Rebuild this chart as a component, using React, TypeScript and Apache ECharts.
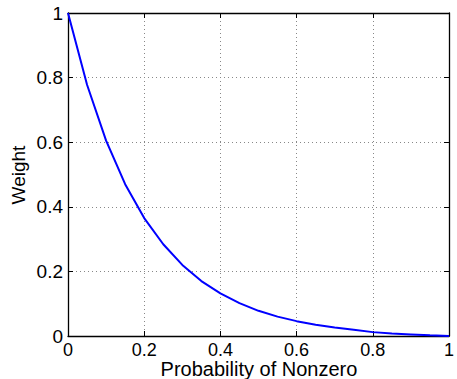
import React, { useEffect, useRef } from "react";
import * as echarts from "echarts";

const xValues = [0, 0.05, 0.1, 0.15, 0.2, 0.25, 0.3, 0.35, 0.4, 0.45, 0.5, 0.55, 0.6, 0.65, 0.7, 0.75, 0.8, 0.85, 0.9, 0.95, 1];
const weightValues = [1, 0.778, 0.605, 0.47, 0.365, 0.284, 0.22, 0.17, 0.132, 0.102, 0.078, 0.06, 0.046, 0.035, 0.026, 0.019, 0.012, 0.008, 0.005, 0.002, 0];
const xTitle = "Probability of Nonzero";
const yTitle = "Weight";

export default function App() {
  const ref = useRef<HTMLDivElement>(null);
  useEffect(() => {
    if (!ref.current) return;
    const chart = echarts.init(ref.current, null, { renderer: "svg" });
    const font = "Liberation Sans, Arial, Helvetica, sans-serif";
    const common = {
      min: 0,
      max: 1,
      interval: 0.2,
      axisLine: { show: true, onZero: false, lineStyle: { color: "#000", width: 1.3 } },
      axisTick: { show: true, inside: true, length: 5, lineStyle: { color: "#000", width: 1 } },
    };
    chart.setOption({
      animation: false,
      backgroundColor: "#fff",
      grid: { left: 68, top: 13, right: 2.5, bottom: 43, containLabel: false },
      xAxis: [
        {
          ...common,
          type: "value",
          position: "bottom",
          axisLabel: { color: "#000", fontSize: 18, fontFamily: font, margin: 5, lineHeight: 18 },
          splitLine: { show: true, lineStyle: { color: "#888", type: [1, 3], width: 1 } },
        },
        {
          ...common,
          type: "value",
          position: "top",
          axisLabel: { show: false },
          splitLine: { show: false },
        },
      ],
      yAxis: [
        {
          ...common,
          type: "value",
          position: "left",
          axisLabel: { color: "#000", fontSize: 19, fontFamily: font, margin: 5 },
          splitLine: { show: true, lineStyle: { color: "#888", type: [1, 3], width: 1 } },
        },
        {
          ...common,
          type: "value",
          position: "right",
          axisLabel: { show: false },
          splitLine: { show: false },
        },
      ],
      series: [
        {
          type: "line",
          data: xValues.map((x, i) => [x, weightValues[i]]),
          showSymbol: false,
          lineStyle: { color: "#0000ff", width: 2 },
          itemStyle: { color: "#0000ff" },
          xAxisIndex: 0,
          yAxisIndex: 0,
        },
      ],
      graphic: [
        {
          type: "text",
          x: 259,
          y: 369,
          style: { text: xTitle, font: `20px ${font}`, lineHeight: 19, fill: "#000", align: "center", verticalAlign: "middle" },
        },
        {
          type: "text",
          x: 18,
          y: 175,
          rotation: Math.PI / 2,
          style: { text: yTitle, font: `19px ${font}`, fill: "#000", align: "center", verticalAlign: "middle" },
        },
      ],
    });
    return () => chart.dispose();
  }, []);
  return <div ref={ref} style={{ width: 457, height: 379, position: "absolute", left: 0, top: 0 }} />;
}
